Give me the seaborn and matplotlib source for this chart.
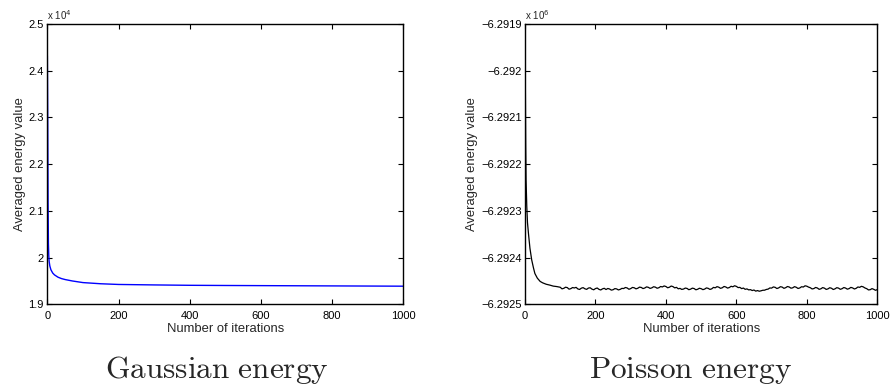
import numpy as np
import pandas as pd
import matplotlib
matplotlib.use("Agg")
import matplotlib.pyplot as plt
import seaborn as sns
from matplotlib.ticker import FuncFormatter

# ---------------- data ----------------
gauss_iter = [0, 1, 2, 3, 4, 5, 7, 10, 15, 20, 30, 40, 50, 70, 100, 150, 200,
              300, 400, 500, 600, 700, 800, 900, 1000]
gauss_energy = [24320, 23000, 21200, 20300, 20050, 19920, 19820, 19740, 19670,
                19630, 19580, 19550, 19530, 19500, 19465, 19440, 19425, 19415,
                19407, 19403, 19400, 19397, 19394, 19391, 19388]

poisson_iter = [0, 1, 2, 3, 5, 7, 10, 14, 19, 24, 28, 35, 43, 50, 60, 71, 80, 90] + \
    list(range(100, 1001, 5))
poisson_energy = [
    -6291910, -6292050, -6292160, -6292234, -6292290, -6292325, -6292350,
    -6292380, -6292405, -6292422, -6292434, -6292444, -6292451, -6292454,
    -6292457, -6292459, -6292461, -6292462,
    # 100 .. 195
    -6292463.5, -6292466.9, -6292465.8, -6292463.4, -6292464.2, -6292467.6,
    -6292466.5, -6292464.1, -6292465.0, -6292463.7, -6292467.1, -6292468.2,
    -6292465.4, -6292464.3, -6292466.8, -6292468.0, -6292465.2, -6292464.6,
    -6292467.5, -6292468.9,
    # 200 .. 295
    -6292466.3, -6292465.1, -6292468.0, -6292469.3, -6292466.9, -6292465.7,
    -6292468.4, -6292466.1, -6292467.2, -6292469.6, -6292468.8, -6292466.4,
    -6292467.0, -6292469.2, -6292468.1, -6292465.9, -6292466.2, -6292464.0,
    -6292465.0, -6292467.8,
    # 300 .. 395
    -6292466.4, -6292463.9, -6292464.6, -6292466.9, -6292465.7, -6292463.2,
    -6292463.9, -6292466.3, -6292465.1, -6292462.7, -6292463.6, -6292465.9,
    -6292464.8, -6292462.4, -6292463.2, -6292465.6, -6292464.5, -6292461.9,
    -6292462.8, -6292460.7,
    # 400 .. 495
    -6292461.9, -6292464.6, -6292463.4, -6292460.9, -6292462.1, -6292464.8,
    -6292463.7, -6292466.8, -6292465.9, -6292468.1, -6292467.3, -6292465.2,
    -6292466.0, -6292468.7, -6292467.6, -6292465.4, -6292466.2, -6292468.9,
    -6292467.8, -6292465.6,
    # 500 .. 595
    -6292466.5, -6292468.6, -6292467.4, -6292464.9, -6292465.8, -6292468.1,
    -6292466.9, -6292463.8, -6292464.7, -6292462.2, -6292463.3, -6292465.8,
    -6292464.6, -6292461.8, -6292462.9, -6292465.3, -6292464.1, -6292461.4,
    -6292462.5, -6292460.3,
    # 600 .. 695
    -6292461.6, -6292464.2, -6292463.8, -6292466.4, -6292465.2, -6292467.9,
    -6292467.0, -6292469.1, -6292468.6, -6292470.5, -6292469.4, -6292471.8,
    -6292470.6, -6292472.0, -6292471.1, -6292469.9, -6292469.8, -6292468.2,
    -6292467.5, -6292465.0,
    # 700 .. 795
    -6292465.3, -6292462.8, -6292463.6, -6292466.2, -6292464.9, -6292462.3,
    -6292463.1, -6292465.8, -6292464.4, -6292461.9, -6292462.9, -6292465.5,
    -6292464.7, -6292462.2, -6292463.5, -6292466.1, -6292465.0, -6292462.4,
    -6292463.0, -6292460.4,
    # 800 .. 895
    -6292461.2, -6292463.2, -6292464.5, -6292467.1, -6292466.3, -6292463.9,
    -6292465.1, -6292467.9, -6292466.8, -6292464.2, -6292465.4, -6292468.1,
    -6292467.0, -6292464.5, -6292465.6, -6292468.3, -6292466.9, -6292464.4,
    -6292465.3, -6292467.9,
    # 900 .. 995
    -6292466.6, -6292464.1, -6292465.2, -6292467.6, -6292466.4, -6292463.8,
    -6292464.9, -6292467.2, -6292465.8, -6292462.9, -6292463.7, -6292461.5,
    -6292462.6, -6292465.0, -6292466.5, -6292469.2, -6292468.7, -6292466.4,
    -6292467.9, -6292470.0,
    # 1000
    -6292468.5]

x_ticks = [0, 200, 400, 600, 800, 1000]
gauss_yticks = [1.9, 2.0, 2.1, 2.2, 2.3, 2.4, 2.5]
poisson_yticks = [-6.2925, -6.2924, -6.2923, -6.2922, -6.2921, -6.292, -6.2919]

titles = ["Gaussian energy", "Poisson energy"]
xlabel = "Number of iterations"
ylabel = "Averaged energy value"

# ---------------- style ----------------
sns.set_style("ticks")
plt.rcParams["font.family"] = ["Liberation Sans", "DejaVu Sans"]
plt.rcParams["mathtext.fontset"] = "cm"
plt.rcParams["axes.unicode_minus"] = True

fig = plt.figure(figsize=(8.9, 3.89), dpi=100)
ax1 = fig.add_axes([0.0532, 0.2177, 0.400, 0.7206])
ax2 = fig.add_axes([0.5899, 0.2177, 0.3958, 0.7206])

df_g = pd.DataFrame({"it": gauss_iter, "e": np.array(gauss_energy) / 1e4})
df_p = pd.DataFrame({"it": poisson_iter, "e": np.array(poisson_energy) / 1e6})

sns.lineplot(data=df_g, x="it", y="e", ax=ax1, color="#0000ff", linewidth=1.0)
sns.lineplot(data=df_p, x="it", y="e", ax=ax2, color="black", linewidth=0.9)

fmt = FuncFormatter(lambda v, p: ("%g" % round(v, 6)).replace("-", "\u2212"))

for ax, yt, mult in [(ax1, gauss_yticks, "4"), (ax2, poisson_yticks, "6")]:
    ax.set_xlim(0, 1000)
    ax.set_ylim(min(yt), max(yt))
    ax.set_xticks(x_ticks)
    ax.set_yticks(yt)
    ax.yaxis.set_major_formatter(fmt)
    ax.tick_params(direction="in", length=3.5, width=0.8, labelsize=8,
                   top=True, right=True, pad=2.5, colors="black")
    ax.tick_params(axis="x", pad=4.5)
    for s in ax.spines.values():
        s.set_visible(True)
        s.set_linewidth(1.0)
        s.set_color("black")
    ax.set_xlabel(xlabel, fontsize=9.4, labelpad=2)
    ax.set_ylabel(ylabel, fontsize=9.4, labelpad=2)
    ax.text(0.0, 1.008, r"x 10$^{%s}$" % mult, transform=ax.transAxes,
            ha="left", va="bottom", fontsize=7,
            math_fontfamily="dejavusans")

fig.text(217 / 890, 1 - 370 / 389, r"$\mathrm{Gaussian\ energy}$",
         ha="center", va="center", fontsize=22.5)
fig.text(691 / 890, 1 - 370 / 389, r"$\mathrm{Poisson\ energy}$",
         ha="center", va="center", fontsize=22.5)

fig.savefig("out.png", dpi=100, facecolor="white")
